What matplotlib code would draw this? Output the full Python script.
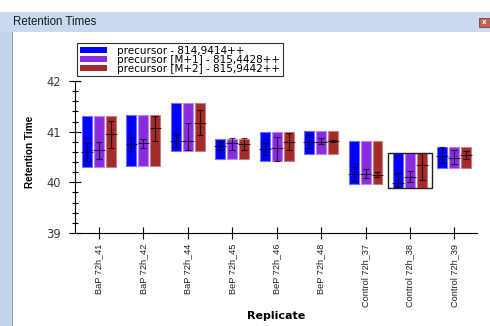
import numpy as np
import matplotlib.pyplot as plt
from matplotlib.patches import Patch, Rectangle

replicates = ['BaP 72h_41', 'BaP 72h_42', 'BaP 72h_44', 'BeP 72h_45', 'BeP 72h_46',
              'BeP 72h_48', 'Control 72h_37', 'Control 72h_38', 'Control 72h_39']
labels = ['precursor - 814,9414++', 'precursor [M+1] - 815,4428++', 'precursor [M+2] - 815,9442++']

# peak start / end (bar range)
bar_top = [41.30, 41.32, 41.56, 40.86, 41.00, 41.02, 40.82, 40.57, 40.70]
bar_bottom = [40.31, 40.32, 40.62, 40.46, 40.42, 40.56, 39.97, 39.88, 40.28]

# retention time and its range per precursor
rt_blue = [40.60, 40.75, 40.82, 40.72, 40.65, 40.80, 40.16, 39.99, 40.52]
lo_blue = [40.42, 40.62, 40.69, 40.64, 40.54, 40.67, 40.03, 39.90, 40.38]
hi_blue = [40.77, 40.90, 40.95, 40.80, 40.77, 40.93, 40.31, 40.18, 40.70]
rt_purple = [40.64, 40.77, 40.82, 40.77, 40.67, 40.80, 40.16, 40.10, 40.49]
lo_purple = [40.47, 40.67, 40.63, 40.64, 40.42, 40.75, 40.08, 40.01, 40.36]
hi_purple = [40.79, 40.85, 41.18, 40.88, 40.89, 40.87, 40.26, 40.22, 40.64]
rt_red = [40.96, 41.07, 41.18, 40.76, 40.79, 40.82, 40.14, 40.34, 40.54]
lo_red = [40.67, 40.82, 40.93, 40.63, 40.63, 40.79, 40.10, 40.05, 40.46]
hi_red = [41.22, 41.30, 41.43, 40.88, 40.98, 40.84, 40.21, 40.57, 40.62]

selected = 7

colors = ['#0000ff', '#8a2be2', '#a52a2a']
edges = ['#6f6fff', '#b98ae8', '#c88080']
series = [(rt_blue, lo_blue, hi_blue), (rt_purple, lo_purple, hi_purple), (rt_red, lo_red, hi_red)]

W, H = 490, 326
fig = plt.figure(figsize=(4.9, 3.26), dpi=100)
fig.patch.set_facecolor('white')

# window frame
fig.patches.append(Rectangle((0, 1 - 32 / H), 1, 20 / H, transform=fig.transFigure,
                             facecolor='#c9d9ee', edgecolor='none', zorder=0))
fig.patches.append(Rectangle((0, 0), 12 / W, 1 - 32 / H, transform=fig.transFigure,
                             facecolor='#c3d3ea', edgecolor='none', zorder=0))
fig.patches.append(Rectangle((12 / W, 0), 1.2 / W, 1 - 32 / H, transform=fig.transFigure,
                             facecolor='#8ea3c2', edgecolor='none', zorder=0))
fig.patches.append(Rectangle((479 / W, 1 - 27 / H), 11 / W, 9 / H, transform=fig.transFigure,
                             facecolor='#c0605a', edgecolor='#8a3a36', lw=0.6, zorder=1))
fig.text(484.5 / W, 1 - 22.5 / H, 'x', color='white', fontsize=5, ha='center', va='center',
         fontweight='bold')
fig.text(13 / W, 1 - 22 / H, 'Retention Times', fontsize=8.3, family='Liberation Sans',
         color='#1a1a1a', va='center', ha='left')

ax = fig.add_axes([75 / W, 1 - 233 / H, 402 / W, 152 / H])

x = np.arange(len(replicates))
bw = 0.225
off = 0.27
for i in range(3):
    xs = x + (i - 1) * off
    ax.bar(xs, np.array(bar_top) - np.array(bar_bottom), bottom=bar_bottom, width=bw,
           color=colors[i], edgecolor=edges[i], linewidth=0.8, zorder=2)
    rt, lo, hi = series[i]
    rt = np.array(rt)
    yerr = [rt - np.array(lo), np.array(hi) - rt]
    ax.errorbar(xs, rt, yerr=yerr, fmt='none', ecolor='black', alpha=0.75,
                elinewidth=0.8, capsize=2, capthick=0.8, zorder=3)
    ax.hlines(rt, xs - bw / 2 - 0.02, xs + bw / 2 + 0.02, colors='black', alpha=0.75,
              linewidth=0.8, zorder=3)

ax.add_patch(Rectangle((selected - 0.49, bar_bottom[selected]), 0.98,
                       bar_top[selected] - bar_bottom[selected],
                       fill=False, edgecolor='#222222', lw=1.0, zorder=4))

ax.set_xlim(-0.54, 8.51)
ax.set_ylim(39, 42)
ax.set_yticks([39, 40, 41, 42])
ax.set_yticks(np.arange(39, 42.01, 0.2), minor=True)
ax.set_xticks(x)
ax.set_xticklabels(replicates, rotation=90, fontsize=6.6, family='Liberation Sans',
                   color='#222222')
for t in ax.get_yticklabels():
    t.set_fontsize(8.3)
    t.set_family('DejaVu Sans')
    t.set_color('#3a3a3a')
ax.tick_params(axis='both', which='major', direction='inout', length=8, width=0.8)
ax.tick_params(axis='y', which='minor', direction='inout', length=5, width=0.8)
ax.tick_params(axis='y', which='major', pad=6)
ax.tick_params(axis='x', which='major', pad=4)
ax.spines['top'].set_visible(False)
ax.spines['right'].set_visible(False)
ax.spines['left'].set_linewidth(0.8)
ax.spines['bottom'].set_linewidth(0.8)

ax.set_ylabel('Retention Time', fontsize=7.2, fontweight='bold', family='Liberation Sans',
              va='center', ha='center')
ax.yaxis.set_label_coords(-0.112, 0.536)
ax.set_xlabel('Replicate', fontsize=8, fontweight='bold', family='DejaVu Sans',
              va='center', ha='center')
ax.xaxis.set_label_coords(0.5, -0.545)

handles = [Patch(facecolor=c, edgecolor='none') for c in colors]
leg = fig.legend(handles, labels, loc='upper left', bbox_to_anchor=(77 / W, 1 - 43 / H),
                 prop={'family': 'DejaVu Sans', 'size': 7.5},
                 frameon=True, fancybox=False, framealpha=1, edgecolor='#333333',
                 handlelength=2.6, handleheight=0.5, labelspacing=-0.1,
                 borderpad=0.25, handletextpad=1.0, borderaxespad=0)
leg.get_frame().set_linewidth(0.8)

plt.savefig('out.png', dpi=100)
